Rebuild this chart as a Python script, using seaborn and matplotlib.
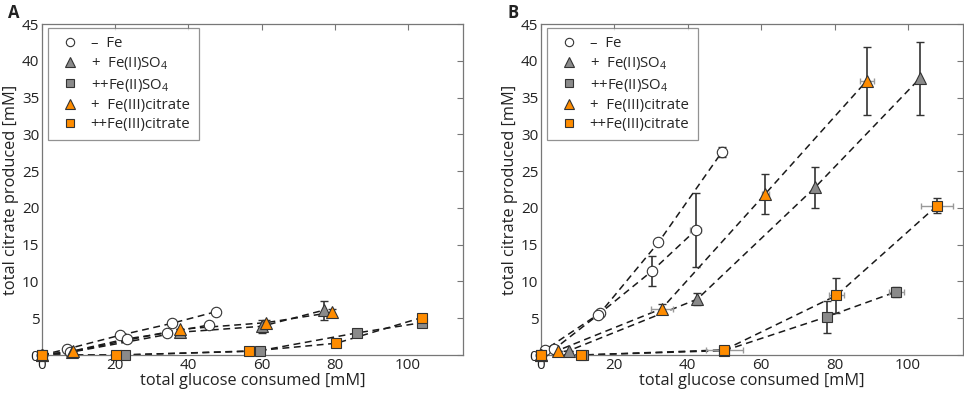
import seaborn as sns
import matplotlib.pyplot as plt
import pandas as pd
import numpy as np

# ---- panel A values ----
a_fe1_x = [0, 6.7, 21.4, 35.4, 47.6]
a_fe1_y = [0, 0.8, 2.7, 4.3, 5.9]
a_fe2_x = [0, 7.6, 23.1, 34.1, 45.7]
a_fe2_y = [0, 0.45, 2.2, 3.0, 4.1]
a_f2p_x = [0, 8.1, 37.6, 60.0, 77.0]
a_f2p_y = [0, 0.4, 3.1, 3.9, 6.1]
a_f2p_e = [0, 0, 0.5, 0.9, 1.3]
a_f2pp_x = [0, 22.6, 59.6, 86.0, 103.8]
a_f2pp_y = [0, 0, 0.6, 3.0, 4.4]
a_f2pp_e = [0, 0, 0, 0, 0.6]
a_f3p_x = [0, 8.5, 37.8, 61.2, 79.3]
a_f3p_y = [0, 0.5, 3.5, 4.4, 5.8]
a_f3p_e = [0, 0, 0, 0.3, 0.5]
a_f3pp_x = [0, 20.1, 56.6, 80.4, 103.8]
a_f3pp_y = [0, 0, 0.5, 1.6, 5.1]

# ---- panel B values ----
b_fe1_x = [0, 1.1, 16.1, 32.0, 49.3]
b_fe1_y = [0, 0.7, 5.7, 15.3, 27.6]
b_fe1_e = [0, 0, 0, 0, 0.7]
b_fe2_x = [0, 3.6, 15.4, 30.2, 42.2]
b_fe2_y = [0, 0.8, 5.4, 11.4, 17.0]
b_fe2_e = [0, 0, 0, 2.0, 5.0]
b_fe2_xe = [0, 0, 0, 0, 1.5]
b_f2p_x = [0, 7.7, 42.6, 74.7, 103.2]
b_f2p_y = [0, 0.6, 7.6, 22.8, 37.6]
b_f2p_e = [0, 0, 0.8, 2.8, 5.0]
b_f2pp_x = [0, 11.5, 50.0, 77.9, 96.8]
b_f2pp_y = [0, 0, 0.6, 5.2, 8.6]
b_f2pp_e = [0, 0, 0, 2.2, 0.7]
b_f2pp_xe = [0, 0, 0, 1.0, 2.0]
b_f3p_x = [0, 4.5, 32.9, 61.1, 88.8]
b_f3p_y = [0, 0.6, 6.3, 21.9, 37.3]
b_f3p_e = [0, 0, 0.7, 2.7, 4.6]
b_f3p_xe = [0, 0, 3.0, 1.0, 2.0]
b_f3pp_x = [0, 10.8, 50.0, 80.5, 107.9]
b_f3pp_y = [0, 0, 0.7, 8.1, 20.3]
b_f3pp_e = [0, 0, 0, 2.4, 1.0]
b_f3pp_xe = [0, 0, 5.0, 2.0, 4.3]

labels = ['–  Fe', '+  Fe(II)SO$_4$', '++Fe(II)SO$_4$',
          '+  Fe(III)citrate', '++Fe(III)citrate']

ORANGE = '#ff8c00'
GRAY = '#8a8a8a'
style = {
    'fe': dict(marker='o', mfc='white', ms=7.5),
    'f2p': dict(marker='^', mfc=GRAY, ms=9),
    'f2pp': dict(marker='s', mfc=GRAY, ms=7),
    'f3p': dict(marker='^', mfc=ORANGE, ms=9),
    'f3pp': dict(marker='s', mfc=ORANGE, ms=7),
}

sns.set_theme(style='white')
plt.rcParams['font.family'] = ['Open Sans', 'DejaVu Sans']
plt.rcParams['mathtext.fontset'] = 'custom'
plt.rcParams['mathtext.rm'] = 'Open Sans'

fig = plt.figure(figsize=(9.64, 3.96), dpi=100)
axA = fig.add_axes([0.0436, 0.1035, 0.4367, 0.8358])
axB = fig.add_axes([0.5612, 0.1035, 0.4378, 0.8358])


def draw(ax, key, x, y, ye=None, xe=None):
    df = pd.DataFrame({'x': x, 'y': y})
    sns.lineplot(data=df, x='x', y='y', ax=ax, color='k', lw=1.1,
                 linestyle=(0, (4.5, 3)), zorder=2)
    if xe is not None:
        ax.errorbar(x, y, xerr=xe, fmt='none', ecolor='#999999', elinewidth=1,
                    capsize=2, zorder=2.5)
    if ye is not None:
        ax.errorbar(x, y, yerr=ye, fmt='none', ecolor='#333333', elinewidth=1.2,
                    capsize=3, zorder=2.6)
    s = style[key]
    ax.plot(x, y, ls='none', marker=s['marker'], ms=s['ms'], mfc=s['mfc'],
            mec='#333333', mew=0.8, zorder=3, clip_on=False)


draw(axA, 'fe', a_fe1_x, a_fe1_y)
draw(axA, 'fe', a_fe2_x, a_fe2_y)
draw(axA, 'f2p', a_f2p_x, a_f2p_y, a_f2p_e)
draw(axA, 'f2pp', a_f2pp_x, a_f2pp_y, a_f2pp_e)
draw(axA, 'f3p', a_f3p_x, a_f3p_y, a_f3p_e)
draw(axA, 'f3pp', a_f3pp_x, a_f3pp_y)

draw(axB, 'fe', b_fe1_x, b_fe1_y, b_fe1_e)
draw(axB, 'fe', b_fe2_x, b_fe2_y, b_fe2_e, b_fe2_xe)
draw(axB, 'f2p', b_f2p_x, b_f2p_y, b_f2p_e)
draw(axB, 'f2pp', b_f2pp_x, b_f2pp_y, b_f2pp_e, b_f2pp_xe)
draw(axB, 'f3p', b_f3p_x, b_f3p_y, b_f3p_e, b_f3p_xe)
draw(axB, 'f3pp', b_f3pp_x, b_f3pp_y, b_f3pp_e, b_f3pp_xe)

for ax, tag in [(axA, 'A'), (axB, 'B')]:
    ax.set_xlim(0, 115)
    ax.set_ylim(0, 45)
    ax.set_xticks(np.arange(0, 101, 20))
    ax.set_yticks(np.arange(0, 46, 5))
    ax.tick_params(direction='in', length=4, width=0.8, color='#777777',
                   top=True, right=True, labelsize=11, labelcolor='#222222', pad=2)
    for sp in ax.spines.values():
        sp.set_color('#777777')
        sp.set_linewidth(0.9)
    ax.set_xlabel('total glucose consumed [mM]', fontsize=11.8, labelpad=0, color='#222222')
    ax.set_ylabel('total citrate produced [mM]', fontsize=11.8, labelpad=2, color='#222222')
    handles = [plt.Line2D([], [], ls='none', marker=style[k]['marker'],
                          ms=style[k]['ms'] - 1.5, mfc=style[k]['mfc'],
                          mec='#333333', mew=0.8)
               for k in ['fe', 'f2p', 'f2pp', 'f3p', 'f3pp']]
    leg = ax.legend(handles, labels, loc='upper left', fontsize=10.8,
                    frameon=True, fancybox=False, edgecolor='#777777',
                    handlelength=1.8, handletextpad=0.5, labelspacing=0.28,
                    borderpad=0.55, borderaxespad=0,
                    bbox_to_anchor=(0.014, 0.988))
    leg.get_frame().set_linewidth(0.9)
    x0 = ax.get_position().x0
    fig.text(x0 - 0.035, 0.955, tag, fontsize=12, fontweight='bold', color='#222222')

fig.savefig('out.png', dpi=100)
